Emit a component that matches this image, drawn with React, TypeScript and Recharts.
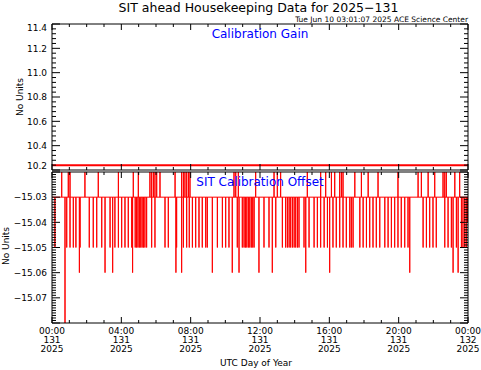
import { LineChart, Line, XAxis, YAxis } from 'recharts'

const FONT = '"DejaVu Sans", Verdana, sans-serif'

// time axis: hours of UTC day 131
const hourTicks = [0, 4, 8, 12, 16, 20, 24]
const hourLabels = ['00:00', '04:00', '08:00', '12:00', '16:00', '20:00', '00:00']
const dayLabels = ['131', '131', '131', '131', '131', '131', '132']
const yearLabels = ['2025', '2025', '2025', '2025', '2025', '2025', '2025']

const gainTicks = [10.2, 10.4, 10.6, 10.8, 11.0, 11.2, 11.4]
const offsetTicks = [-15.08, -15.07, -15.06, -15.05, -15.04, -15.03, -15.02]

// calibration gain, flat all day
const gainHours = [0, 24]
const gainValues = [10.24, 10.24]

// calibration offset sits at -15.03 and jumps for single samples
const offsetBase = -15.03
const upTo02 = [
  0.56, 0.94, 1.04, 1.9, 2.67, 3.83, 4.69, 4.98, 5.65, 5.75, 5.85, 5.94, 6.04, 6.23, 7.1, 7.48,
  7.58, 7.67, 7.77, 7.87, 7.96, 10.5, 10.6, 10.75, 11.75, 12.81, 13.0, 13.19, 14.73, 15.5, 15.79,
  16.12, 16.31, 16.6, 16.7, 16.79, 17.47, 17.85, 18.24, 18.81, 19.96, 21.12, 21.31, 21.7, 22.08,
  22.56, 22.66, 22.75, 23.24, 23.52,
]
const downTo05 = [
  0.17, 0.85, 1.04, 1.23, 1.38, 1.62, 2.15, 2.38, 2.58, 2.87, 3.35, 3.63, 3.83, 4.02, 4.21, 4.4,
  4.6, 4.8, 4.88, 4.96, 5.04, 5.12, 5.2, 5.28, 5.36, 5.46, 5.75, 5.94, 6.52, 6.71, 7.19, 7.58,
  7.77, 7.92, 8.1, 8.29, 8.48, 8.67, 8.87, 8.96, 9.54, 9.83, 10.02, 10.21, 10.69, 10.98, 11.08,
  11.16, 11.24, 11.33, 11.41, 11.5, 11.58, 11.66, 12.23, 12.52, 12.91, 13.29, 13.48, 13.58, 13.68,
  13.77, 13.87, 13.97, 14.06, 14.16, 14.25, 14.54, 14.83, 15.12, 15.31, 15.5, 15.7, 15.89, 16.21,
  16.4, 16.6, 16.79, 16.98, 17.18, 17.27, 17.37, 17.76, 17.95, 18.14, 18.33, 18.52, 18.71, 18.91,
  19.2, 19.39, 19.58, 19.77, 19.96, 20.15, 20.35, 20.54, 21.41, 21.6, 21.79, 21.98, 22.17, 22.66,
  22.85, 23.04, 23.33, 23.62, 23.71, 23.81, 23.9,
]
const downTo06 = [
  1.58, 3.06, 3.5, 4.65, 7.15, 7.48, 9.25, 10.4, 10.79, 11.94, 12.71, 14.64, 16.02, 20.64, 23.14,
  23.43,
]
const downTo04 = [23.97]
const downTo08 = [0.75]

const gainData = gainHours.map((t, i) => ({ t, g: gainValues[i] }))

const jumps = [
  ...upTo02.map((t) => ({ t, v: -15.02 })),
  ...downTo04.map((t) => ({ t, v: -15.04 })),
  ...downTo05.map((t) => ({ t, v: -15.05 })),
  ...downTo06.map((t) => ({ t, v: -15.06 })),
  ...downTo08.map((t) => ({ t, v: -15.08 })),
].sort((a, b) => a.t - b.t)

const offsetData: { t: number; v: number }[] = [{ t: 0, v: offsetBase }]
jumps.forEach(({ t, v }) => {
  offsetData.push({ t, v: offsetBase }, { t, v }, { t, v: offsetBase })
})
offsetData.push({ t: 24, v: offsetBase })

// minor tick positions
const hourMinor = Array.from({ length: 25 }, (_, i) => i)
const gainMinor = Array.from({ length: 31 }, (_, i) => +(10.2 + i * 0.04).toFixed(2))
const offsetMinor = Array.from({ length: 61 }, (_, i) => +(-15.08 + i * 0.001).toFixed(3))

const near = (a: number, b: number) => Math.abs(a - b) < 1e-6

// ticks point into the plot, IDL style
const timeTick = (side: 'top' | 'bottom', labels: boolean) => (p: any) => {
  const v = p.payload.value
  const idx = hourTicks.findIndex((m) => near(m, v))
  const len = idx >= 0 ? 6 : 3
  const dir = side === 'bottom' ? -1 : 1
  return (
    <g>
      <line x1={p.x} x2={p.x} y1={p.y} y2={p.y + dir * len} stroke="#000" />
      {labels && idx >= 0 && (
        <text textAnchor="middle" fontSize={9} fontFamily={FONT} fill="#000">
          <tspan x={p.x} y={p.y + 10.5}>{hourLabels[idx]}</tspan>
          <tspan x={p.x} y={p.y + 19.5}>{dayLabels[idx]}</tspan>
          <tspan x={p.x} y={p.y + 28.5}>{yearLabels[idx]}</tspan>
        </text>
      )}
    </g>
  )
}

const valueTick =
  (side: 'left' | 'right', majors: number[], digits: number, labelEdges: boolean) => (p: any) => {
    const v = p.payload.value
    const major = majors.some((m) => near(m, v))
    const len = major ? 8 : 4
    const dir = side === 'left' ? 1 : -1
    const lo = majors[0]
    const hi = majors[majors.length - 1]
    const edge = near(v, lo) || near(v, hi)
    let shift = 0
    if (near(v, hi)) shift = 3.5
    if (near(v, lo)) shift = -4
    return (
      <g>
        <line x1={p.x} x2={p.x + dir * len} y1={p.y} y2={p.y} stroke="#000" />
        {side === 'left' && major && (labelEdges || !edge) && (
          <text x={p.x - 5} y={p.y + shift + 3.3} textAnchor="end" fontSize={9} fontFamily={FONT} fill="#000">
            {v.toFixed(digits).replace('-', '\u2212')}
          </text>
        )}
      </g>
    )
  }

const axisStroke = { stroke: '#000', strokeWidth: 1 }

function Panel({
  data,
  dataKey,
  domain,
  minor,
  majors,
  digits,
  labelEdges,
  top,
  bottom,
  timeLabels,
  lineWidth,
}: any) {
  return (
    <LineChart width={481} height={370} data={data} margin={{ top, right: 12, bottom, left: 0 }}>
      <XAxis xAxisId="b" dataKey="t" type="number" domain={[0, 24]} ticks={hourMinor} interval={0}
        orientation="bottom" height={1} tickSize={0} tickMargin={0} tickLine={false}
        axisLine={axisStroke} tick={timeTick('bottom', timeLabels)} allowDataOverflow />
      <XAxis xAxisId="t" dataKey="t" type="number" domain={[0, 24]} ticks={hourMinor} interval={0}
        orientation="top" height={1} tickSize={0} tickMargin={0} tickLine={false}
        axisLine={axisStroke} tick={timeTick('top', false)} allowDataOverflow />
      <YAxis yAxisId="l" type="number" domain={domain} ticks={minor} interval={0}
        orientation="left" width={52} tickSize={0} tickMargin={0} tickLine={false}
        axisLine={axisStroke} tick={valueTick('left', majors, digits, labelEdges)} allowDataOverflow />
      <YAxis yAxisId="r" type="number" domain={domain} ticks={minor} interval={0}
        orientation="right" width={1} tickSize={0} tickMargin={0} tickLine={false}
        axisLine={axisStroke} tick={valueTick('right', majors, digits, labelEdges)} allowDataOverflow />
      <Line xAxisId="b" yAxisId="l" dataKey={dataKey} type="linear" stroke="#ff0000" strokeWidth={lineWidth}
        dot={false} isAnimationActive={false} />
    </LineChart>
  )
}

export default function App() {
  return (
    <div style={{ position: 'absolute', left: 0, top: 0, width: 481, height: 370, background: '#fff' }}>
      <div style={{ position: 'absolute', left: 0, top: 0 }}>
        <Panel data={gainData} dataKey="g" domain={[10.2, 11.4]} minor={gainMinor} majors={gainTicks}
          digits={1} labelEdges top={23} bottom={199} timeLabels={false} lineWidth={2} />
      </div>
      <div style={{ position: 'absolute', left: 0, top: 0 }}>
        <Panel data={offsetData} dataKey="v" domain={[-15.08, -15.02]} minor={offsetMinor} majors={offsetTicks}
          digits={2} labelEdges={false} top={171} bottom={46} timeLabels lineWidth={1} />
      </div>
      <svg width={481} height={370} style={{ position: 'absolute', left: 0, top: 0, pointerEvents: 'none' }}
        fontFamily={FONT}>
        <text x={258.5} y={11.5} textAnchor="middle" fontSize={12.5} fill="#000">
          SIT ahead Housekeeping Data for 2025{'\u2212'}131
        </text>
        <text x={468} y={22} textAnchor="end" fontSize={7.5} fill="#000">
          Tue Jun 10 03:01:07 2025 ACE Science Center
        </text>
        <text x={260} y={38} textAnchor="middle" fontSize={12} fill="#0000ff">Calibration Gain</text>
        <text x={260} y={186} textAnchor="middle" fontSize={12} fill="#0000ff">SIT Calibration Offset</text>
        <text transform="translate(23,97) rotate(-90)" textAnchor="middle" fontSize={9} fill="#000">No Units</text>
        <text transform="translate(8.5,246) rotate(-90)" textAnchor="middle" fontSize={9} fill="#000">No Units</text>
        <text x={256} y={366} textAnchor="middle" fontSize={9} fill="#000">UTC Day of Year</text>
      </svg>
    </div>
  )
}
